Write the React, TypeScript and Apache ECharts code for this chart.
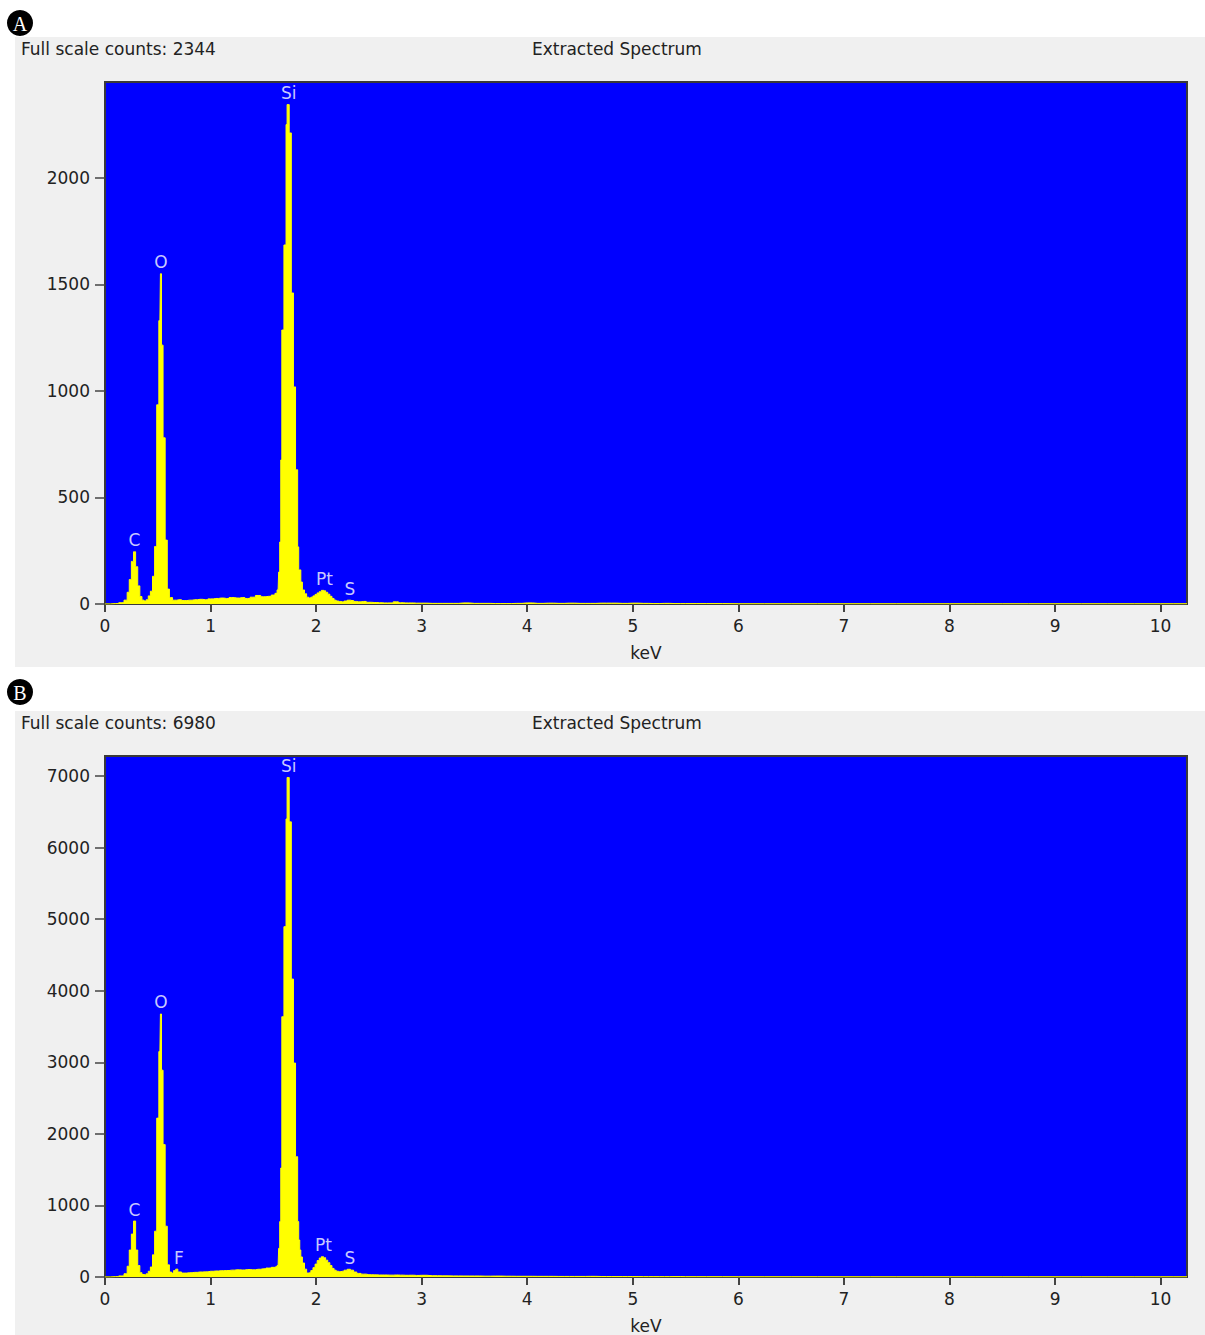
import React, { useEffect, useRef } from "react";
import * as echarts from "echarts";

const FONT = "DejaVu Sans";

const xTicks = [0, 1, 2, 3, 4, 5, 6, 7, 8, 9, 10];
const aYTicks = [0, 500, 1000, 1500, 2000];
const bYTicks = [0, 1000, 2000, 3000, 4000, 5000, 6000, 7000];

const aTitle = "Full scale counts: 2344";
const bTitle = "Full scale counts: 6980";
const subTitle = "Extracted Spectrum";

const aKeV = [
  0.0, 0.1, 0.16, 0.2, 0.22, 0.24, 0.26, 0.28, 0.3, 0.32, 0.34, 0.36, 0.38, 0.4, 0.42, 0.44, 0.46, 0.48, 0.5, 0.52,
  0.53, 0.54, 0.56, 0.58, 0.6, 0.62, 0.66, 0.7, 0.75, 0.8, 0.85, 0.9, 0.95, 1.0, 1.05, 1.1, 1.15, 1.2, 1.25, 1.3,
  1.35, 1.4, 1.45, 1.5, 1.55, 1.6, 1.62, 1.64, 1.65, 1.66, 1.67, 1.68, 1.69, 1.7, 1.71, 1.72, 1.73, 1.74, 1.75, 1.76,
  1.77, 1.78, 1.79, 1.8, 1.81, 1.82, 1.83, 1.84, 1.85, 1.86, 1.88, 1.9, 1.92, 1.94, 1.96, 1.98, 2.0, 2.02, 2.04, 2.06,
  2.08, 2.1, 2.12, 2.14, 2.16, 2.18, 2.2, 2.22, 2.25, 2.28, 2.31, 2.34, 2.37, 2.4, 2.45, 2.5, 2.55, 2.6, 2.65, 2.7,
  2.76, 2.8, 2.85, 2.9, 2.95, 3.0, 3.1, 3.2, 3.3, 3.4, 3.5, 3.6, 3.7, 3.8, 3.9, 4.0, 4.1, 4.2, 4.3, 4.4,
  4.5, 4.6, 4.7, 4.8, 4.9, 5.0, 5.1, 5.2, 5.3, 5.4, 5.5, 5.7, 6.0, 6.5, 7.0, 7.5, 8.0, 8.5, 9.0, 9.5,
  10.0, 10.25,
];
const aCounts = [
  0, 2, 6, 18, 55, 115, 200, 245, 175, 85, 35, 18, 14, 20, 38, 60, 130, 270, 935, 1330,
  1550, 1215, 780, 300, 70, 30, 18, 20, 16, 18, 20, 22, 20, 24, 26, 28, 26, 30, 28, 30,
  26, 32, 40, 34, 36, 42, 50, 66, 150, 291, 676, 1286, 1286, 1685, 1685, 2250, 2344, 2344, 2211, 2211,
  1460, 1460, 1019, 1019, 630, 630, 268, 160, 160, 103, 66, 48, 32, 28, 32, 38, 45, 52, 58, 64,
  62, 55, 46, 36, 26, 18, 14, 12, 10, 14, 18, 16, 12, 10, 12, 8, 7, 6, 5, 5,
  10, 6, 5, 5, 4, 4, 3, 3, 3, 5, 3, 3, 2, 2, 3, 5, 3, 4, 3, 4,
  3, 3, 4, 4, 3, 4, 3, 2, 3, 2, 2, 2, 1, 1, 1, 1, 1, 1, 1, 1,
  1, 1,
];

const bKeV = [
  0.0, 0.1, 0.16, 0.2, 0.22, 0.24, 0.26, 0.28, 0.3, 0.32, 0.34, 0.36, 0.38, 0.4, 0.42, 0.44, 0.46, 0.48, 0.5, 0.52,
  0.53, 0.54, 0.56, 0.58, 0.6, 0.62, 0.64, 0.66, 0.68, 0.7, 0.75, 0.8, 0.85, 0.9, 0.95, 1.0, 1.05, 1.1, 1.15, 1.2,
  1.25, 1.3, 1.35, 1.4, 1.45, 1.5, 1.55, 1.6, 1.62, 1.64, 1.65, 1.66, 1.67, 1.68, 1.69, 1.7, 1.71, 1.72, 1.73, 1.74,
  1.75, 1.76, 1.77, 1.78, 1.79, 1.8, 1.81, 1.82, 1.83, 1.84, 1.85, 1.86, 1.88, 1.9, 1.92, 1.94, 1.96, 1.98, 2.0, 2.02,
  2.04, 2.06, 2.08, 2.1, 2.12, 2.14, 2.16, 2.18, 2.2, 2.22, 2.25, 2.28, 2.31, 2.34, 2.37, 2.4, 2.45, 2.5, 2.55, 2.6,
  2.65, 2.7, 2.76, 2.8, 2.85, 2.9, 2.95, 3.0, 3.1, 3.2, 3.3, 3.4, 3.5, 3.6, 3.7, 3.8, 3.9, 4.0, 4.1, 4.2,
  4.3, 4.4, 4.5, 4.6, 4.7, 4.8, 4.9, 5.0, 5.1, 5.2, 5.3, 5.4, 5.5, 5.7, 6.0, 6.5, 7.0, 7.5, 8.0, 8.5,
  9.0, 9.5, 10.0, 10.25,
];
const bCounts = [
  0, 5, 15, 45, 150, 377, 600, 782, 377, 160, 60, 35, 30, 45, 80, 140, 310, 640, 2220, 3150,
  3675, 2890, 1850, 710, 170, 70, 55, 90, 110, 70, 55, 60, 65, 70, 72, 80, 84, 88, 90, 96,
  100, 98, 104, 100, 108, 115, 125, 135, 144, 160, 400, 774, 1523, 3637, 3637, 4895, 4895, 6400, 6980, 6980,
  6360, 6360, 4164, 4164, 2990, 2990, 1681, 1681, 774, 517, 377, 280, 196, 110, 56, 60, 90, 130, 180, 230,
  265, 284, 270, 235, 200, 160, 120, 95, 80, 75, 80, 95, 108, 95, 70, 50, 40, 32, 30, 28,
  28, 26, 28, 26, 24, 25, 22, 24, 18, 16, 15, 14, 14, 12, 13, 11, 10, 10, 9, 9,
  8, 8, 8, 9, 7, 6, 6, 6, 5, 5, 5, 6, 4, 4, 3, 3, 2, 2, 2, 2,
  2, 2, 2, 2,
];

const aPeakNames = ["C", "O", "Si", "Pt", "S"];
const aPeakKeV = [0.28, 0.53, 1.74, 2.08, 2.32];
const aPeakCounts = [245, 1550, 2344, 64, 18];

const bPeakNames = ["C", "O", "F", "Si", "Pt", "S"];
const bPeakKeV = [0.28, 0.53, 0.70, 1.74, 2.07, 2.32];
const bPeakCounts = [782, 3675, 110, 6980, 284, 108];

const TEXT = "#222222";
const FS = 17;

function makeX(gridIndex: number) {
  return {
    type: "value",
    gridIndex,
    min: 0,
    max: 10.25,
    interval: 1,
    name: "keV",
    nameLocation: "middle",
    nameGap: 40,
    nameTextStyle: { fontFamily: FONT, fontSize: FS, color: TEXT },
    axisLine: { show: false },
    splitLine: { show: false },
    axisTick: {
      show: true,
      length: 8,
      customValues: xTicks,
      lineStyle: { color: "#444", width: 2 },
    },
    axisLabel: {
      customValues: xTicks,
      margin: 13,
      fontFamily: FONT,
      fontSize: FS,
      color: TEXT,
      formatter: (v: number) => String(v),
    },
  };
}

function makeY(gridIndex: number, max: number, ticks: number[]) {
  return {
    type: "value",
    gridIndex,
    min: 0,
    max,
    axisLine: { show: false },
    splitLine: { show: false },
    axisTick: {
      show: true,
      length: 10,
      customValues: ticks,
      lineStyle: { color: "#444", width: 1.5 },
    },
    axisLabel: {
      customValues: ticks,
      margin: 15,
      fontFamily: FONT,
      fontSize: FS,
      color: TEXT,
      formatter: (v: number) => String(v),
    },
  };
}

function makeSeries(idx: number, keV: number[], counts: number[], names: string[], pk: number[], pc: number[]) {
  return {
    type: "line",
    xAxisIndex: idx,
    yAxisIndex: idx,
    data: keV.map((k, i) => [k, counts[i]]),
    step: "middle",
    showSymbol: false,
    symbol: "none",
    lineStyle: { color: "#ffff00", width: 1 },
    areaStyle: { color: "#ffff00", opacity: 1 },
    markPoint: {
      symbol: "circle",
      symbolSize: 0,
      data: names.map((n, i) => ({ name: n, coord: [pk[i], pc[i]] })),
      label: {
        show: true,
        position: "top",
        distance: 3,
        formatter: "{b}",
        color: "#c8c8ff",
        fontFamily: FONT,
        fontSize: FS,
      },
    },
  };
}

export default function App() {
  const ref = useRef<HTMLDivElement>(null);
  useEffect(() => {
    if (!ref.current) return;
    const chart = echarts.init(ref.current, undefined, { renderer: "svg" });
    const panelRect = (y: number, h: number) => ({
      type: "rect",
      z: -10,
      shape: { x: 15, y, width: 1190, height: h },
      style: { fill: "#f0f0f0" },
    });
    const badge = (cy: number, letter: string) => [
      { type: "circle", shape: { cx: 20, cy, r: 13 }, style: { fill: "#000" } },
      {
        type: "text",
        x: 20,
        y: cy + 1,
        style: {
          text: letter,
          fill: "#fff",
          font: "20px 'Liberation Serif'",
          textAlign: "center",
          textVerticalAlign: "middle",
        },
      },
    ];
    const titleText = (x: number, y: number, t: string) => ({
      type: "text",
      x,
      y,
      style: {
        text: t,
        fill: TEXT,
        font: `${FS}px '${FONT}'`,
        textAlign: "left",
        textVerticalAlign: "middle",
      },
    });
    chart.setOption({
      animation: false,
      backgroundColor: "#ffffff",
      graphic: [
        panelRect(37, 630),
        panelRect(711, 624),
        ...badge(23, "A"),
        ...badge(692, "B"),
        titleText(21, 49, aTitle),
        titleText(532, 49, subTitle),
        titleText(21, 723, bTitle),
        titleText(532, 723, subTitle),
      ],
      grid: [
        {
          left: 105,
          top: 82,
          width: 1082,
          height: 522,
          show: true,
          backgroundColor: "#0000ff",
          borderColor: "#3a3a3a",
          borderWidth: 2,
        },
        {
          left: 105,
          top: 756,
          width: 1082,
          height: 521,
          show: true,
          backgroundColor: "#0000ff",
          borderColor: "#3a3a3a",
          borderWidth: 2,
        },
      ],
      xAxis: [makeX(0), makeX(1)],
      yAxis: [makeY(0, 2450, aYTicks), makeY(1, 7280, bYTicks)],
      series: [
        makeSeries(0, aKeV, aCounts, aPeakNames, aPeakKeV, aPeakCounts),
        makeSeries(1, bKeV, bCounts, bPeakNames, bPeakKeV, bPeakCounts),
      ],
    });
    return () => chart.dispose();
  }, []);
  return (
    <div
      ref={ref}
      style={{ position: "absolute", left: 0, top: 0, width: 1205, height: 1335 }}
    />
  );
}
